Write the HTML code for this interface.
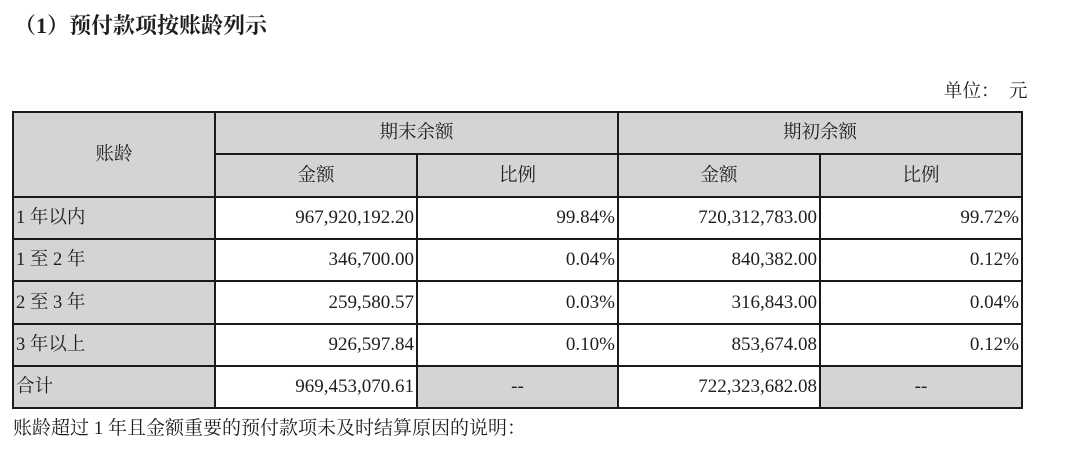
<!DOCTYPE html>
<html>
<head>
<meta charset="utf-8">
<style>
  html, body { margin:0; padding:0; background:#fff; }
  body { width:1080px; height:460px; position:relative; overflow:hidden;
         font-family:"Liberation Serif","Noto Serif CJK SC",serif; color:#1e1e1e; }
  .abs { position:absolute; }
  .t { position:absolute; display:flex; align-items:center; white-space:nowrap; font-size:18.5px; line-height:20px; }
  .num { font-size:19px; }
  .c { justify-content:center; }
  .r { justify-content:flex-end; padding-right:3px; box-sizing:border-box; }
  .l { justify-content:flex-start; padding-left:3px; box-sizing:border-box; }
  .g { position:absolute; background:#d4d4d4; }
  .hl { position:absolute; height:2px; background:#1a1a1a; left:12px; width:1011px; }
  .vl { position:absolute; width:2px; background:#1a1a1a; }
</style>
</head>
<body>
  <!-- title -->
  <div class="abs" style="left:14px; top:15px; font-size:22px; line-height:22px; font-weight:700; font-family:'Liberation Serif','Noto Serif CJK SC',serif; white-space:nowrap;">（1）预付款项按账龄列示</div>

  <!-- unit -->
  <div class="abs" style="left:944px; top:82px; font-size:18.5px; line-height:20px; white-space:nowrap;">单位：</div>
  <div class="abs" style="left:1009px; top:82px; font-size:18.5px; line-height:20px; white-space:nowrap;">元</div>

  <!-- gray backgrounds -->
  <div class="g" style="left:13px; top:112px; width:1009px; height:85px;"></div>
  <div class="g" style="left:13px; top:196px; width:202px; height:212px;"></div>
  <div class="g" style="left:417px; top:366px; width:201px; height:42px;"></div>
  <div class="g" style="left:820px; top:366px; width:202px; height:42px;"></div>

  <!-- horizontal lines -->
  <div class="hl" style="top:111px;"></div>
  <div class="hl" style="top:153px; left:214px; width:809px;"></div>
  <div class="hl" style="top:196px;"></div>
  <div class="hl" style="top:238px;"></div>
  <div class="hl" style="top:280px;"></div>
  <div class="hl" style="top:323px;"></div>
  <div class="hl" style="top:365px;"></div>
  <div class="hl" style="top:407px;"></div>

  <!-- vertical lines -->
  <div class="vl" style="left:12px; top:111px; height:298px;"></div>
  <div class="vl" style="left:214px; top:111px; height:298px;"></div>
  <div class="vl" style="left:416px; top:154px; height:255px;"></div>
  <div class="vl" style="left:617px; top:111px; height:298px;"></div>
  <div class="vl" style="left:819px; top:154px; height:255px;"></div>
  <div class="vl" style="left:1021px; top:111px; height:298px;"></div>

  <!-- header text -->
  <div class="t c" style="left:13px; top:112px; width:202px; height:85px;">账龄</div>
  <div class="t c" style="left:215px; top:112px; width:403px; height:42px;">期末余额</div>
  <div class="t c" style="left:618px; top:112px; width:404px; height:42px;">期初余额</div>
  <div class="t c" style="left:215px; top:154px; width:202px; height:43px;">金额</div>
  <div class="t c" style="left:417px; top:154px; width:201px; height:43px;">比例</div>
  <div class="t c" style="left:618px; top:154px; width:202px; height:43px;">金额</div>
  <div class="t c" style="left:820px; top:154px; width:202px; height:43px;">比例</div>

  <!-- row 1 -->
  <div class="t l" style="left:13px; top:197px; width:202px; height:42px;">1 年以内</div>
  <div class="t r num" style="left:215px; top:197px; width:202px; height:42px;">967,920,192.20</div>
  <div class="t r num" style="left:417px; top:197px; width:201px; height:42px;">99.84%</div>
  <div class="t r num" style="left:618px; top:197px; width:202px; height:42px;">720,312,783.00</div>
  <div class="t r num" style="left:820px; top:197px; width:202px; height:42px;">99.72%</div>

  <!-- row 2 -->
  <div class="t l" style="left:13px; top:239px; width:202px; height:42px;">1 至 2 年</div>
  <div class="t r num" style="left:215px; top:239px; width:202px; height:42px;">346,700.00</div>
  <div class="t r num" style="left:417px; top:239px; width:201px; height:42px;">0.04%</div>
  <div class="t r num" style="left:618px; top:239px; width:202px; height:42px;">840,382.00</div>
  <div class="t r num" style="left:820px; top:239px; width:202px; height:42px;">0.12%</div>

  <!-- row 3 -->
  <div class="t l" style="left:13px; top:281px; width:202px; height:43px;">2 至 3 年</div>
  <div class="t r num" style="left:215px; top:281px; width:202px; height:43px;">259,580.57</div>
  <div class="t r num" style="left:417px; top:281px; width:201px; height:43px;">0.03%</div>
  <div class="t r num" style="left:618px; top:281px; width:202px; height:43px;">316,843.00</div>
  <div class="t r num" style="left:820px; top:281px; width:202px; height:43px;">0.04%</div>

  <!-- row 4 -->
  <div class="t l" style="left:13px; top:324px; width:202px; height:42px;">3 年以上</div>
  <div class="t r num" style="left:215px; top:324px; width:202px; height:42px;">926,597.84</div>
  <div class="t r num" style="left:417px; top:324px; width:201px; height:42px;">0.10%</div>
  <div class="t r num" style="left:618px; top:324px; width:202px; height:42px;">853,674.08</div>
  <div class="t r num" style="left:820px; top:324px; width:202px; height:42px;">0.12%</div>

  <!-- total row -->
  <div class="t l" style="left:13px; top:366px; width:202px; height:42px;">合计</div>
  <div class="t r num" style="left:215px; top:366px; width:202px; height:42px;">969,453,070.61</div>
  <div class="t c num" style="left:417px; top:366px; width:201px; height:42px;">--</div>
  <div class="t r num" style="left:618px; top:366px; width:202px; height:42px;">722,323,682.08</div>
  <div class="t c num" style="left:820px; top:366px; width:202px; height:42px;">--</div>

  <!-- footnote -->
  <div class="abs" style="left:13px; top:419px; font-size:19px; line-height:20px; white-space:nowrap;">账龄超过 1 年且金额重要的预付款项未及时结算原因的说明：</div>
</body>
</html>
